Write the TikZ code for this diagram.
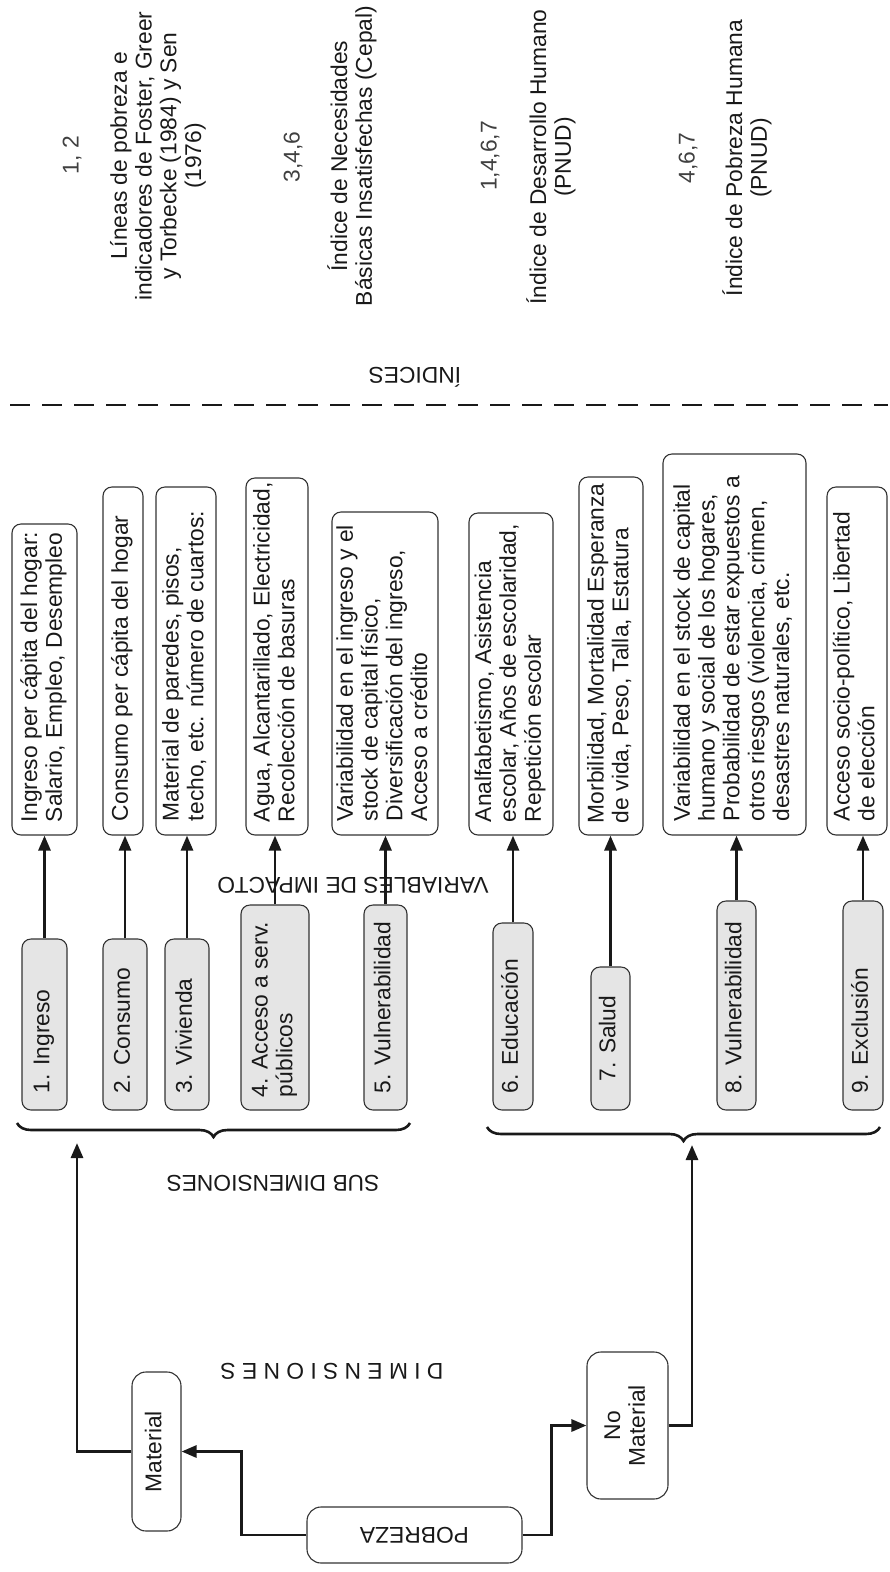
\documentclass[tikz,border=0pt]{standalone}
\usepackage{fontspec}
\setmainfont{Liberation Sans}
\usetikzlibrary{arrows.meta,decorations.pathreplacing}
% rotated left-aligned text block of given length
\newcommand{\rtl}[2]{\rotatebox{90}{\makebox[#1][l]{\begin{tabular}{@{}l@{}}#2\end{tabular}}}}
\newcommand{\rtc}[1]{\rotatebox{90}{\begin{tabular}{@{}c@{}}#1\end{tabular}}}
\tikzset{
  every node/.style={font=\fontsize{22.8}{24.8}\selectfont, inner sep=0pt, text=black!90},
  varbox/.style={draw=black!80, line width=1.1pt, rounded corners=9pt, fill=white},
  subbox/.style={varbox, fill=black!10},
  dimbox/.style={draw=black!80, line width=1.1pt, rounded corners=14pt, fill=white},
  arr/.style={line width=2.8pt, draw=black!90, -{Triangle[length=15pt,width=12pt]}},
  bracestyle/.style={line width=2.6pt, draw=black!90, decorate, decoration={brace, amplitude=14pt}},
  upside/.style={rotate=180},
  vtext/.style={rotate=90, align=center},
  numtext/.style={vtext, text=black!75}
}
\begin{document}
\begin{tikzpicture}[x=1pt, y=-1pt]
\useasboundingbox (0,0) rectangle (890,1572);

% ---------- index column ----------
\node[numtext] (n1) at (72,155) {1, 2};
\node[vtext] (i1) at (158,156) {Líneas de pobreza e\\indicadores de Foster, Greer\\y Torbecke (1984) y Sen\\(1976)};
\node[numtext] (n2) at (293,157) {3,4,6};
\node[vtext] (i2) at (352,156) {Índice de Necesidades\\Básicas Insatisfechas (Cepal)};
\node[numtext] (n3) at (490,156) {1,4,6,7};
\node[vtext] (i3) at (551,157) {Índice de Desarrollo Humano\\(PNUD)};
\node[numtext] (n4) at (688,158) {4,6,7};
\node[vtext] (i4) at (747,158) {Índice de Pobreza Humana\\(PNUD)};

\node[upside] (lindices) at (415,377) {ÍNDICES};
\draw[line width=2.2pt, draw=black!90, dash pattern=on 20pt off 12pt] (10,405) -- (888,405);

% ---------- variables de impacto ----------
\node[varbox, minimum width=65pt, minimum height=311pt] (v1) at (44.5,679.5)
  {\rtl{285pt}{Ingreso per cápita del hogar:\\Salario, Empleo, Desempleo}};
\node[varbox, minimum width=40pt, minimum height=348pt] (v2) at (123,661)
  {\rtl{320pt}{Consumo per cápita del hogar}};
\node[varbox, minimum width=60pt, minimum height=348pt] (v3) at (186,661)
  {\rtl{320pt}{Material de paredes, pisos,\\techo, etc. número de cuartos:}};
\node[varbox, minimum width=62pt, minimum height=357pt] (v4) at (277,656.5)
  {\rtl{331pt}{Agua, Alcantarillado, Electricidad,\\Recolección de basuras}};
\node[varbox, minimum width=106pt, minimum height=323pt] (v5) at (385,673.5)
  {\rtl{295pt}{Variabilidad en el ingreso y el\\stock de capital físico,\\Diversificación del ingreso,\\Acceso a crédito}};
\node[varbox, minimum width=84pt, minimum height=322pt] (v6) at (511,674)
  {\rtl{296pt}{Analfabetismo, Asistencia\\escolar, Años de escolaridad,\\Repetición escolar}};
\node[varbox, minimum width=64pt, minimum height=358pt] (v7) at (611,656)
  {\rtl{334pt}{Morbilidad, Mortalidad Esperanza\\de vida, Peso, Talla, Estatura}};
\node[varbox, minimum width=143pt, minimum height=381pt] (v8) at (734.5,644.5)
  {\rtl{353pt}{Variabilidad en el stock de capital\\humano y social de los hogares,\\Probabilidad de estar expuestos a\\otros riesgos (violencia, crimen,\\desastres naturales, etc.}};
\node[varbox, minimum width=60pt, minimum height=348pt] (v9) at (857,661)
  {\rtl{320pt}{Acceso socio-político, Libertad\\de elección}};

% ---------- sub dimensiones ----------
\node[subbox, minimum width=45pt, minimum height=171pt] (s1) at (44.5,1024.5) {\rtl{137pt}{1. Ingreso}};
\node[subbox, minimum width=44pt, minimum height=171pt] (s2) at (125,1024.5) {\rtl{137pt}{2. Consumo}};
\node[subbox, minimum width=44pt, minimum height=171pt] (s3) at (187,1024.5) {\rtl{137pt}{3. Vivienda}};
\node[subbox, minimum width=68pt, minimum height=205pt] (s4) at (275,1007.5) {\rtl{179pt}{4. Acceso a serv.\\públicos}};
\node[subbox, minimum width=43pt, minimum height=205pt] (s5) at (385.5,1007.5) {\rtl{171pt}{5. Vulnerabilidad}};
\node[subbox, minimum width=40pt, minimum height=187pt] (s6) at (513,1016.5) {\rtl{153pt}{6. Educación}};
\node[subbox, minimum width=39pt, minimum height=143pt] (s7) at (610.5,1038.5) {\rtc{7. Salud}};
\node[subbox, minimum width=39pt, minimum height=209pt] (s8) at (736.5,1005.5) {\rtl{175pt}{8. Vulnerabilidad}};
\node[subbox, minimum width=40pt, minimum height=209pt] (s9) at (863,1005.5) {\rtl{175pt}{9. Exclusión}};

\node[upside] (lvar) at (353,885) {VARIABLES DE IMPACTO};

\foreach \i in {1,...,9}{
  \draw[arr] (s\i.north) -- (s\i.north |- v\i.south);
}

% ---------- braces ----------
\draw[bracestyle] (410,1123) -- (17,1123);
\draw[bracestyle] (880,1127) -- (487,1127);
\coordinate (br1) at (77,1143);
\coordinate (br2) at (692,1145);

\node[upside] (lsub) at (273,1183) {SUB DIMENSIONES};
\node[upside] (ldim) at (332,1371) {D I M E N S I O N E S};

% ---------- dimensiones ----------
\node[dimbox, minimum width=49pt, minimum height=159pt] (mat) at (156.5,1451.5) {\rtc{Material}};
\node[dimbox, minimum width=81pt, minimum height=147pt] (nomat) at (627.5,1425.5) {\rtc{No\\Material}};
\node[dimbox, minimum width=215pt, minimum height=56pt] (pob) at (414.5,1535) {\rotatebox{180}{POBREZA}};

\draw[arr] (pob.west) -- ++(-65,0) |- (mat.east);
\draw[arr] (pob.east) -- ++(29,0) |- (nomat.west);
\draw[arr] (mat.west) -| (br1);
\draw[arr] (nomat.east) -| (br2);
\end{tikzpicture}
\end{document}
